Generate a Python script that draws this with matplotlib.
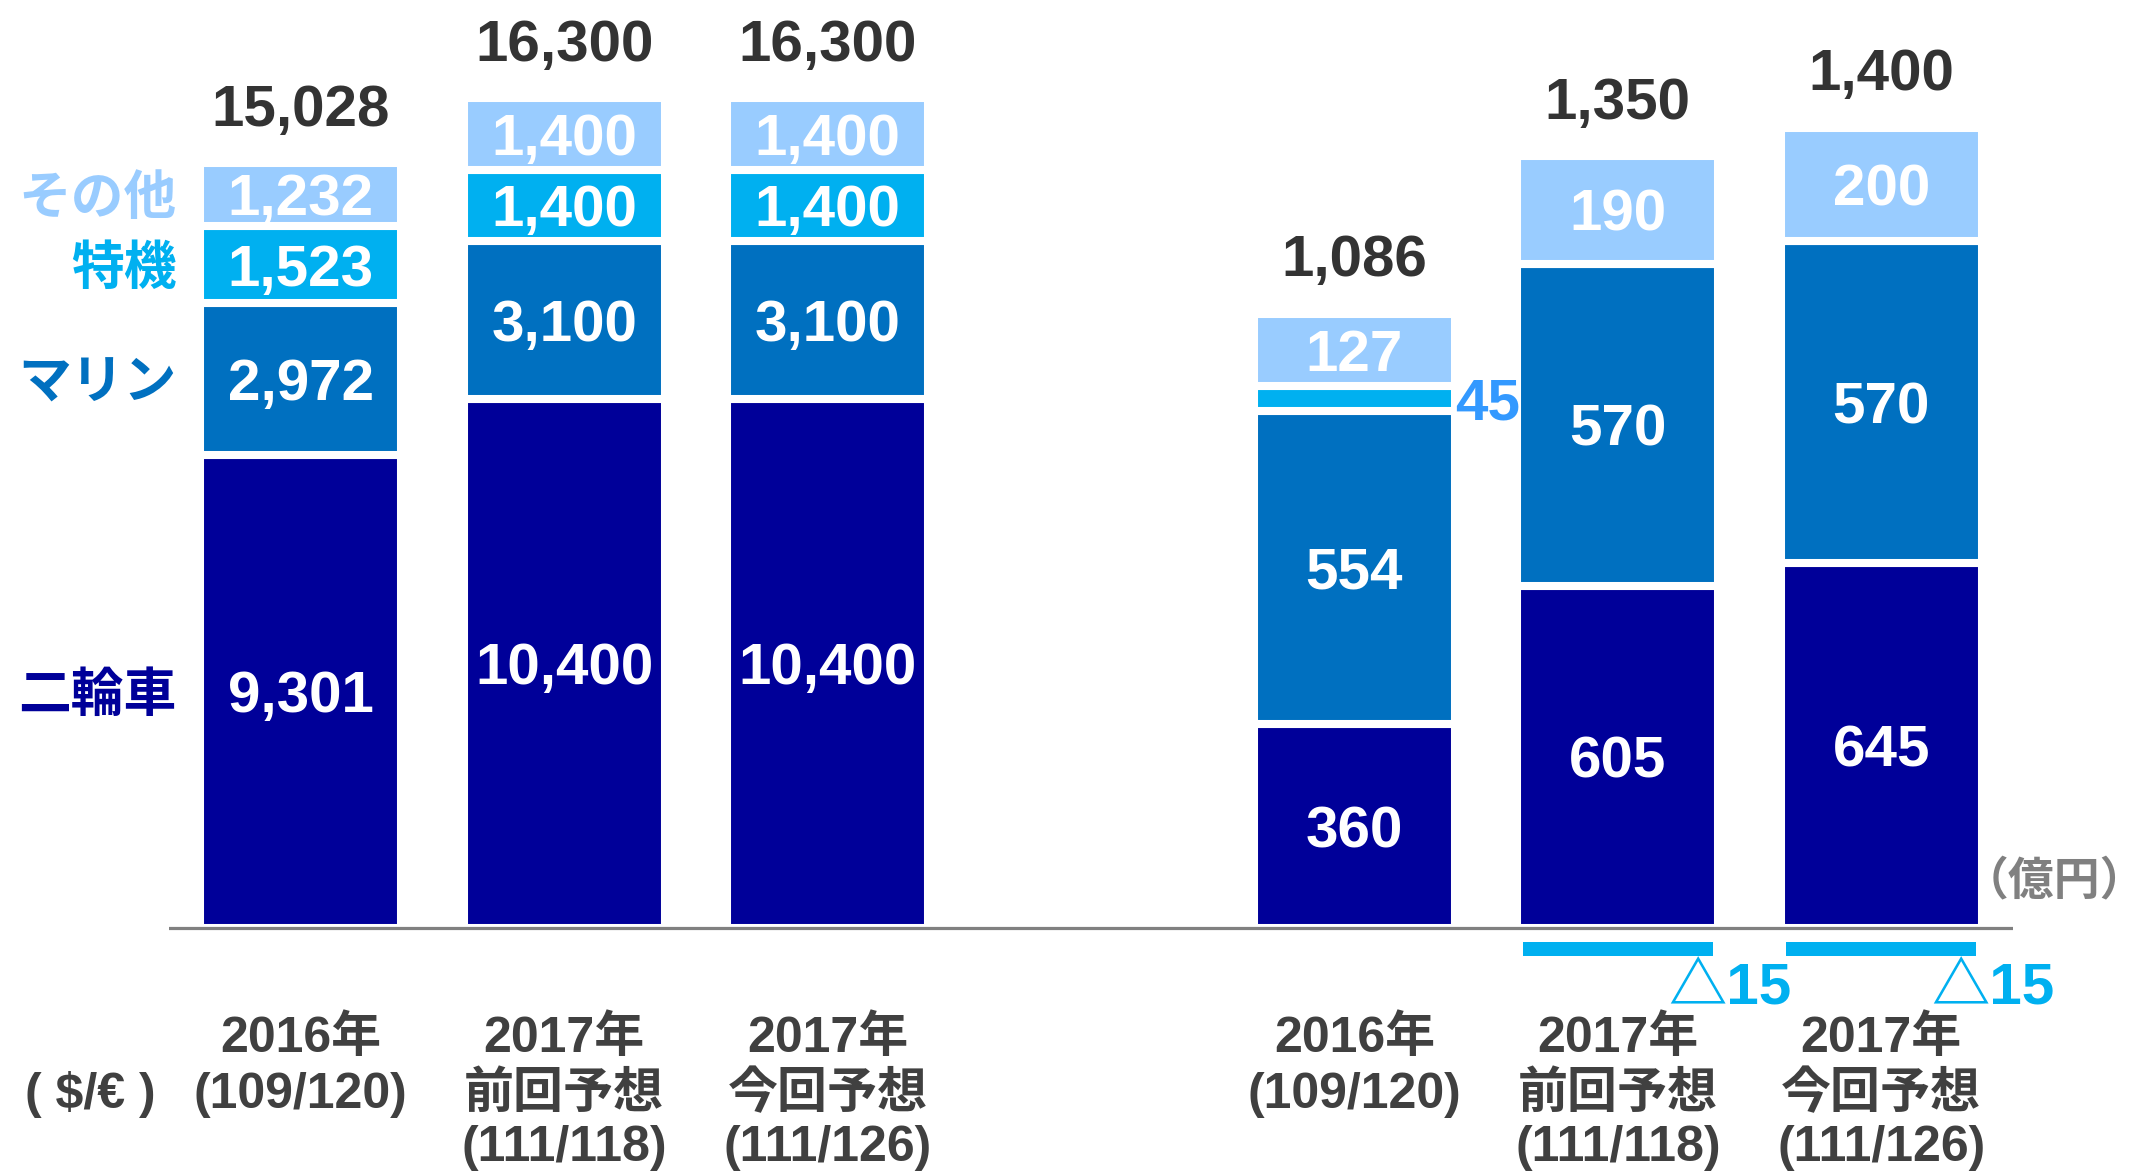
import matplotlib
matplotlib.use("Agg")
import matplotlib.pyplot as plt
import matplotlib.transforms as mtransforms
import numpy as np

plt.rcParams['font.family'] = ['Liberation Sans', 'Noto Sans CJK JP']
plt.rcParams['font.weight'] = 'bold'

# segment names (bottom to top) and colours
segment_names = ["二輪車", "マリン", "特機", "その他"]
segment_colors = ["#000099", "#0070C0", "#00B0F0", "#99CCFF"]

# net sales (left group)
sales_motorcycle = [9301, 10400, 10400]
sales_marine = [2972, 3100, 3100]
sales_special = [1523, 1400, 1400]
sales_other = [1232, 1400, 1400]
sales_total = [15028, 16300, 16300]

# operating income (right group)
op_motorcycle = [360, 605, 645]
op_marine = [554, 570, 570]
op_special = [45, -15, -15]
op_other = [127, 190, 200]
op_total = [1086, 1350, 1400]

# x labels
cat_year = ["2016年", "2017年", "2017年"]
cat_kind = ["", "前回予想", "今回予想"]
cat_rate = ["(109/120)", "(111/118)", "(111/126)"]

W, H = 2150, 1174
fig = plt.figure(figsize=(W / 100, H / 100), dpi=100)

# layout in pixels
ax_l, ax_r, ax_t, ax_b = 169, 2013, 20, 1000
base_px = 928
sales_ppu = 0.0509     # pixels per unit, left group
op_ppu = 0.5655        # pixels per unit, right group

ax = fig.add_axes([ax_l / W, 1 - ax_b / H, (ax_r - ax_l) / W, (ax_b - ax_t) / H])
ax.set_xlim(-0.5, 6.5)
ax.set_ylim(-(ax_b - base_px) / sales_ppu, (base_px - ax_t) / sales_ppu)
ax2 = ax.twinx()
ax2.set_ylim(-(ax_b - base_px) / op_ppu, (base_px - ax_t) / op_ppu)
for a in (ax, ax2):
    a.axis("off")

x_sales = np.array([0, 1, 2])
x_op = np.array([4, 5, 6])
bar_w = 0.763
edge = 5.8
neg_gap = 25
neg_scale = 1.65
label_size = 42
outside_color = "#3399FF"
neg_label_color = "#00B0F0"


def draw_stack(a, xs, layers, ppu):
    bottoms = np.zeros(len(xs))
    for vals, color in zip(layers, segment_colors):
        vals = np.array(vals, dtype=float)
        pos = np.where(vals > 0, vals, 0)
        a.bar(xs, pos, bar_w, bottom=bottoms, color=color,
              edgecolor="white", linewidth=edge, zorder=2)
        for x, b, v in zip(xs, bottoms, vals):
            if v > 0 and v * ppu >= 40:
                a.text(x, b + v / 2, f"{int(v):,}", color="white", ha="center",
                       va="center_baseline", fontsize=label_size, zorder=4)
            elif v > 0:
                # too thin: put the number beside the bar
                a.annotate(f"{int(v):,}", (x + bar_w / 2, b + v / 2),
                           xytext=(0, 0), textcoords="offset points",
                           color=outside_color, ha="left", va="center_baseline",
                           fontsize=label_size, zorder=4)
            elif v < 0:
                a.bar(x, v * neg_scale, 0.722, bottom=-neg_gap, color=color,
                      linewidth=0, zorder=2)
                a.annotate(f"△{int(-v)}", (x + 0.19, -neg_gap + v * neg_scale),
                           xytext=(0, -35), textcoords="offset points",
                           color=neg_label_color, ha="left", va="baseline",
                           fontsize=label_size, zorder=4)
        bottoms += pos
    return bottoms


tops_s = draw_stack(ax, x_sales, [sales_motorcycle, sales_marine, sales_special, sales_other], sales_ppu)
tops_o = draw_stack(ax2, x_op, [op_motorcycle, op_marine, op_special, op_other], op_ppu)

for x, top, tot in zip(x_sales, tops_s, sales_total):
    ax.annotate(f"{tot:,}", (x, top), xytext=(0, 27), textcoords="offset points",
                ha="center", va="baseline", fontsize=label_size, color="#333333")
for x, top, tot in zip(x_op, tops_o, op_total):
    ax2.annotate(f"{tot:,}", (x, top), xytext=(0, 27), textcoords="offset points",
                 ha="center", va="baseline", fontsize=label_size, color="#333333")

# baseline
ax2.axhline(0, color="#808080", lw=2.3, zorder=5)

# segment names next to first bar
bottom = 0
for vals, name, color in zip([sales_motorcycle, sales_marine, sales_special, sales_other],
                             segment_names, segment_colors):
    v = vals[0]
    ax.annotate(name, (-bar_w / 2, bottom + v / 2), xytext=(-17, 0),
                textcoords="offset points", ha="right", va="center_baseline",
                fontsize=38, color=color)
    bottom += v

# category labels
tr = mtransforms.blended_transform_factory(ax.transData, fig.transFigure)
line_px = [1052, 1108, 1161]
for xs in (x_sales, x_op):
    for x, yr, kind, rate in zip(xs, cat_year, cat_kind, cat_rate):
        lines = [yr, kind, rate] if kind else [yr, rate]
        for txt, py in zip(lines, line_px):
            ax.text(x, 1 - py / H, txt, transform=tr, ha="center", va="baseline",
                    fontsize=36, color="#404040")
ax.text(-0.8, 1 - line_px[1] / H, "( $/€ )", transform=tr, ha="center",
        va="baseline", fontsize=36, color="#404040")

fig.text(2146 / W, 1 - 882 / H, "（億円）", ha="right", va="center",
         fontsize=33, color="#808080")

fig.savefig("out.png", dpi=100, facecolor="white")
